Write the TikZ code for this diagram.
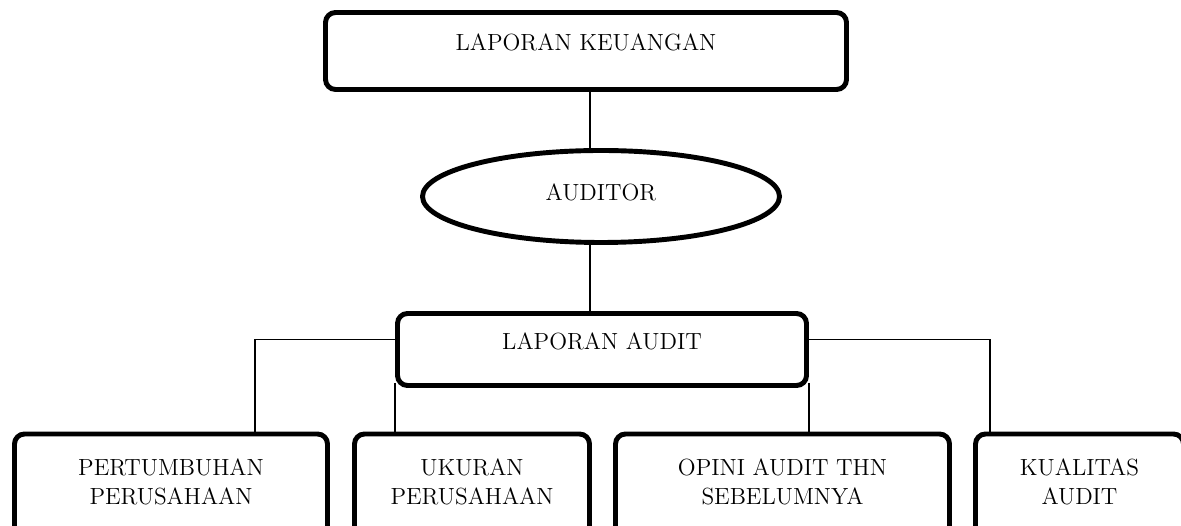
\documentclass[tikz,border=0pt]{standalone}
\usepackage{tikz}
\usetikzlibrary{positioning,calc,shapes.geometric}

\begin{document}
\begin{tikzpicture}[
        box/.style={draw, line width=2.8pt, rounded corners=0.2cm, align=center,
                    font={\fontsize{13.3}{16}\selectfont}, inner sep=0pt,
                    text height=0.2cm, text depth=0.2cm},
        leaf/.style={box, minimum height=2.2cm, text height=0.8cm},
        oval/.style={draw, ellipse, line width=2.8pt, inner sep=0pt,
                     font={\fontsize{13.3}{16}\selectfont},
                     text height=0.3cm, text depth=0.12cm},
        link/.style={line width=0.75pt}
      ]
        \clip (0,0) rectangle (23.62,-10.52);

        \node[box, minimum width=10.42cm, minimum height=1.54cm] (keuangan) at (11.72,-1.02) {LAPORAN KEUANGAN};
        \node[oval, minimum width=7.14cm, minimum height=1.84cm] (auditor) at (12.02,-3.93) {AUDITOR};
        \node[box, minimum width=8.18cm, minimum height=1.44cm] (audit) at (12.04,-6.99) {LAPORAN AUDIT};

        \node[leaf, minimum width=6.26cm] (tumbuh) at (3.42,-9.78) {PERTUMBUHAN\\PERUSAHAAN};
        \node[leaf, minimum width=4.70cm] (ukuran) at (9.44,-9.78) {UKURAN\\PERUSAHAAN};
        \node[leaf, minimum width=6.68cm] (opini) at (15.65,-9.78) {OPINI AUDIT THN\\SEBELUMNYA};
        \node[leaf, minimum width=4.16cm] (kualitas) at (21.59,-9.78) {KUALITAS\\AUDIT};

        \draw[link] ([xshift=0.08cm]keuangan.south) -- ([xshift=0.08cm]keuangan.south |- auditor.north);
        \draw[link] ([xshift=-0.22cm]auditor.south) -- ([xshift=-0.22cm]auditor.south |- audit.north);
        \draw[link] ([yshift=0.2cm]audit.west) -| ([xshift=1.68cm]tumbuh.north);
        \draw[link] ([yshift=0.2cm]audit.east) -| ([xshift=-1.79cm]kualitas.north);
        \draw[link] ([yshift=0.1cm]audit.south west) -- (audit.south west |- ukuran.north);
        \draw[link] ([yshift=0.1cm]audit.south east) -- (audit.south east |- opini.north);
      \end{tikzpicture}
\end{document}
